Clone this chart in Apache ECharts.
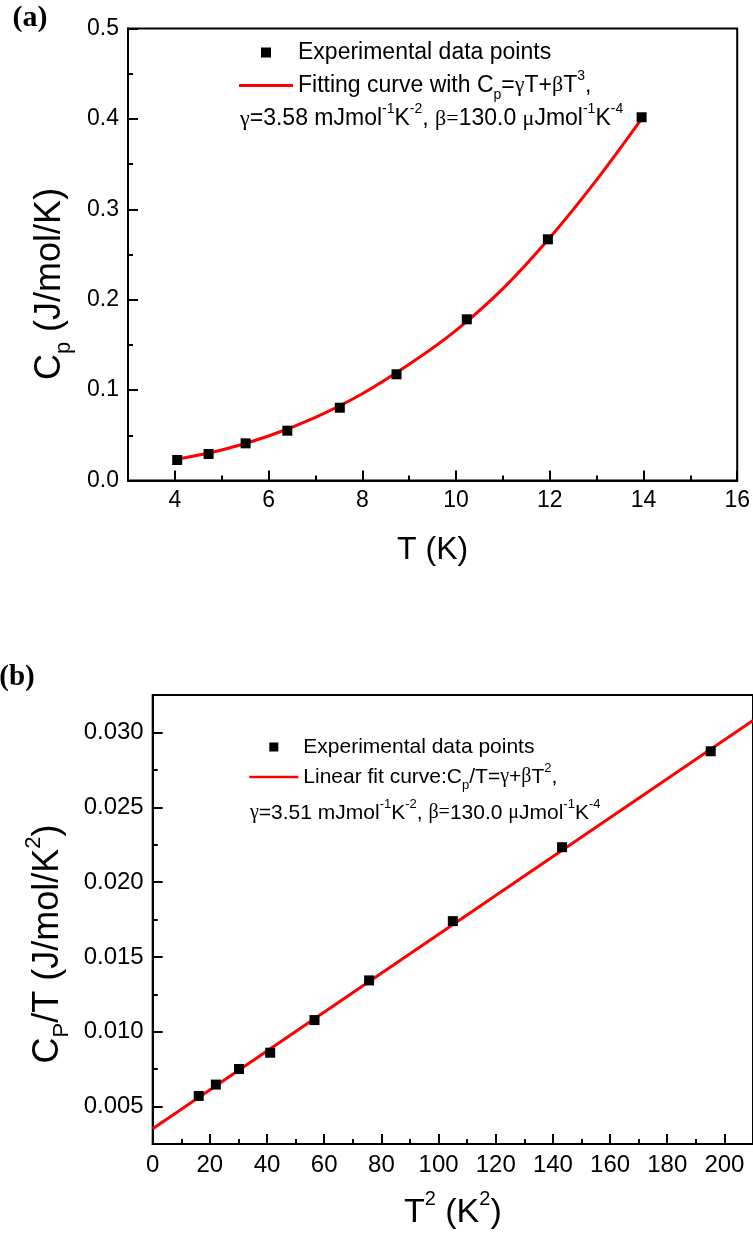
<!DOCTYPE html>
<html><head><meta charset="utf-8">
<script src="https://cdn.jsdelivr.net/npm/echarts@6/dist/echarts.min.js"></script>
<style>html,body{margin:0;padding:0;background:#fff}#c{width:753px;height:1238px}</style>
</head><body><div id="c"></div>
<script>
// ---------- data ----------
// panel (a): Cp vs T
const topT = [4.05, 4.72, 5.51, 6.40, 7.52, 8.73, 10.23, 11.96, 13.96];
const topCp = [0.0227, 0.0293, 0.0411, 0.0551, 0.0805, 0.1175, 0.1783, 0.2668, 0.4018];
const topFitT = [4, 5, 6, 7, 8, 9, 10, 11, 12, 13, 14];
const topFitCp = [0.0232, 0.0337, 0.0492, 0.0699, 0.0960, 0.1285, 0.1660, 0.2122, 0.2685, 0.3325, 0.4030];
// panel (b): Cp/T vs T^2
const botT2 = [16.1, 22.1, 30.2, 41.1, 56.6, 75.7, 105.0, 143.2, 195.2];
const botCpT = [0.00571, 0.00647, 0.00751, 0.00860, 0.01078, 0.01343, 0.01739, 0.02233, 0.02874];
const botFitX = [0, 210];
const botFitY = [0.00352, 0.0308];
// tick values
const topXMajor = [4, 6, 8, 10, 12, 14, 16];
const topXMinor = [5, 7, 9, 11, 13, 15];
const topYMajor = [0, 0.1, 0.2, 0.3, 0.4, 0.5];
const topYMinor = [0.05, 0.15, 0.25, 0.35, 0.45];
const botXMajor = [0, 20, 40, 60, 80, 100, 120, 140, 160, 180, 200];
const botXMinor = [10, 30, 50, 70, 90, 110, 130, 150, 170, 190];
const botYMajor = [0.005, 0.010, 0.015, 0.020, 0.025, 0.030];
const botYMinor = [0.0075, 0.0125, 0.0175, 0.0225, 0.0275];

// ---------- styles ----------
const SANS = '"Liberation Sans", Arial, Helvetica, sans-serif';
const SERIF = '"Liberation Serif", "Times New Roman", serif';

function richSet(fs, lh) {
  return {
    g: {fontSize: Math.round(fs * 0.95), lineHeight: lh, fontFamily: SERIF, color: '#000'},
    sub: {fontSize: Math.round(fs * 0.62), lineHeight: Math.max(1, lh - 1.04 * fs), verticalAlign: 'bottom', fontFamily: SANS, color: '#000'},
    sup: {fontSize: Math.round(fs * 0.6), lineHeight: Math.max(1, lh - 1.22 * fs), verticalAlign: 'top', fontFamily: SANS, color: '#000'}
  };
}

const N_A1 = 'exp_a', N_A2 = 'fit_a', N_B1 = 'exp_b', N_B2 = 'fit_b';
const LEG = {
  exp_a: 'Experimental data points',
  fit_a: 'Fitting curve with C{sub|p}={g|γ}T+{g|β}T{sup|3},',
  exp_b: 'Experimental data points',
  fit_b: 'Linear fit curve:C{sub|p}/T={g|γ}+{g|β}T{sup|2},'
};
const SQUARE = 'path://M0,0h10v10h-10z';
const LINEICON = 'path://M0,0h54v3h-54z';

function tickAxis(gridIndex, min, max, vals, len, isY) {
  return {
    type: 'value', gridIndex: gridIndex, min: min, max: max,
    position: isY ? 'left' : 'bottom',
    axisLine: {show: false, onZero: false},
    axisTick: {show: true, inside: true, length: len, customValues: vals, lineStyle: {color: '#000', width: 2}},
    axisLabel: {show: false},
    splitLine: {show: false}
  };
}
function mainAxis(gridIndex, min, max, vals, fmt, fs, name, gap, nfs, padding, isY) {
  const lh = Math.round(nfs * 1.4);
  return {
    type: 'value', gridIndex: gridIndex, min: min, max: max,
    position: isY ? 'left' : 'bottom',
    axisLine: {show: true, onZero: false, lineStyle: {color: '#000', width: 2}},
    axisTick: {show: true, inside: true, length: 10, customValues: vals, lineStyle: {color: '#000', width: 2}},
    axisLabel: {show: true, customValues: vals, margin: 9, color: '#000', fontSize: fs, fontFamily: SANS, formatter: fmt},
    splitLine: {show: false},
    name: name, nameLocation: 'middle', nameGap: gap,
    nameTextStyle: {color: '#000', fontSize: nfs, fontFamily: SANS, lineHeight: lh, padding: padding, rich: richSet(nfs, lh)}
  };
}

const chart = echarts.init(document.getElementById('c'), null, {renderer: 'canvas'});
const option = {
  backgroundColor: '#fff',
  animation: false,
  grid: [
    {left: 128, top: 28.5, width: 610, height: 452, show: true, borderColor: '#000', borderWidth: 2, backgroundColor: 'transparent'},
    {left: 152.7, top: 695, width: 608, height: 449.3, show: true, borderColor: '#000', borderWidth: 2, backgroundColor: 'transparent'}
  ],
  xAxis: [
    mainAxis(0, 3, 16, topXMajor, v => String(v), 23, 'T (K)', 47, 32, [0, 0, 0, 0], false),
    tickAxis(0, 3, 16, topXMinor, 5, false),
    mainAxis(1, 0, 210, botXMajor, v => String(v), 24, 'T{sup|2} (K{sup|2})', 45, 34, [0, 0, 0, 0], false),
    tickAxis(1, 0, 210, botXMinor, 5, false)
  ],
  yAxis: [
    mainAxis(0, 0, 0.5, topYMajor, v => v.toFixed(1), 23, 'C{sub|p} (J/mol/K)', 53, 36, [0, 59, 0, 0], true),
    tickAxis(0, 0, 0.5, topYMinor, 5, true),
    mainAxis(1, 0.0025, 0.0325, botYMajor, v => v.toFixed(3), 24, 'C{sub|P}/T (J/mol/K{sup|2})', 80, 36, [0, 49, 0, 0], true),
    tickAxis(1, 0.0025, 0.0325, botYMinor, 5, true)
  ],
  legend: [
    {
      data: [{name: N_A1, icon: SQUARE}, {name: N_A2, icon: LINEICON}],
      orient: 'vertical', left: 234, top: 31, itemWidth: 54, itemHeight: 10, itemGap: 0,
      selectedMode: false, symbolKeepAspect: true,
      textStyle: {color: '#000', fontSize: 23, fontFamily: SANS, lineHeight: 33, rich: richSet(23, 33)},
      formatter: n => LEG[n]
    },
    {
      data: [{name: N_B1, icon: SQUARE}, {name: N_B2, icon: LINEICON}],
      orient: 'vertical', left: 244.3, top: 727, itemWidth: 49, itemHeight: 9, itemGap: 0,
      selectedMode: false, symbolKeepAspect: true,
      textStyle: {color: '#000', fontSize: 21, fontFamily: SANS, lineHeight: 30, rich: richSet(21, 30)},
      formatter: n => LEG[n]
    }
  ],
  graphic: [
    {type: 'text', x: 30, y: 18, style: {text: '(a)', font: 'bold 30px "Liberation Serif", "Times New Roman", serif', fill: '#000', align: 'center', verticalAlign: 'middle'}},
    {type: 'text', x: 17, y: 678, style: {text: '(b)', font: 'bold 29px "Liberation Serif", "Times New Roman", serif', fill: '#000', align: 'center', verticalAlign: 'middle'}},
    {type: 'text', x: 240, y: 119, style: {
      text: '{g|γ}=3.58 mJmol{sup|-1}K{sup|-2}, {g|β=}130.0 {g|μ}Jmol{sup|-1}K{sup|-4}',
      fontSize: 23, fontFamily: SANS, lineHeight: 33, fill: '#000', align: 'left', verticalAlign: 'middle', rich: richSet(23, 33)}},
    {type: 'text', x: 250, y: 813, style: {
      text: '{g|γ}=3.51 mJmol{sup|-1}K{sup|-2}, {g|β=}130.0 {g|μ}Jmol{sup|-1}K{sup|-4}',
      fontSize: 21, fontFamily: SANS, lineHeight: 30, fill: '#000', align: 'left', verticalAlign: 'middle', rich: richSet(21, 30)}}
  ],
  series: [
    {name: N_A2, type: 'line', xAxisIndex: 0, yAxisIndex: 0, smooth: 0.4, symbol: 'none',
      lineStyle: {color: '#ff0000', width: 3}, itemStyle: {color: '#ff0000'},
      data: topFitT.map((t, i) => [t, topFitCp[i]]), z: 3},
    {name: N_A1, type: 'scatter', xAxisIndex: 0, yAxisIndex: 0, symbol: 'rect', symbolSize: 10,
      itemStyle: {color: '#000', opacity: 1}, data: topT.map((t, i) => [t, topCp[i]]), z: 4},
    {name: N_B2, type: 'line', xAxisIndex: 2, yAxisIndex: 2, symbol: 'none',
      lineStyle: {color: '#ff0000', width: 3}, itemStyle: {color: '#ff0000'},
      data: botFitX.map((t, i) => [t, botFitY[i]]), z: 3},
    {name: N_B1, type: 'scatter', xAxisIndex: 2, yAxisIndex: 2, symbol: 'rect', symbolSize: 10,
      itemStyle: {color: '#000', opacity: 1}, data: botT2.map((t, i) => [t, botCpT[i]]), z: 4}
  ]
};
chart.setOption(option);
</script></body></html>
